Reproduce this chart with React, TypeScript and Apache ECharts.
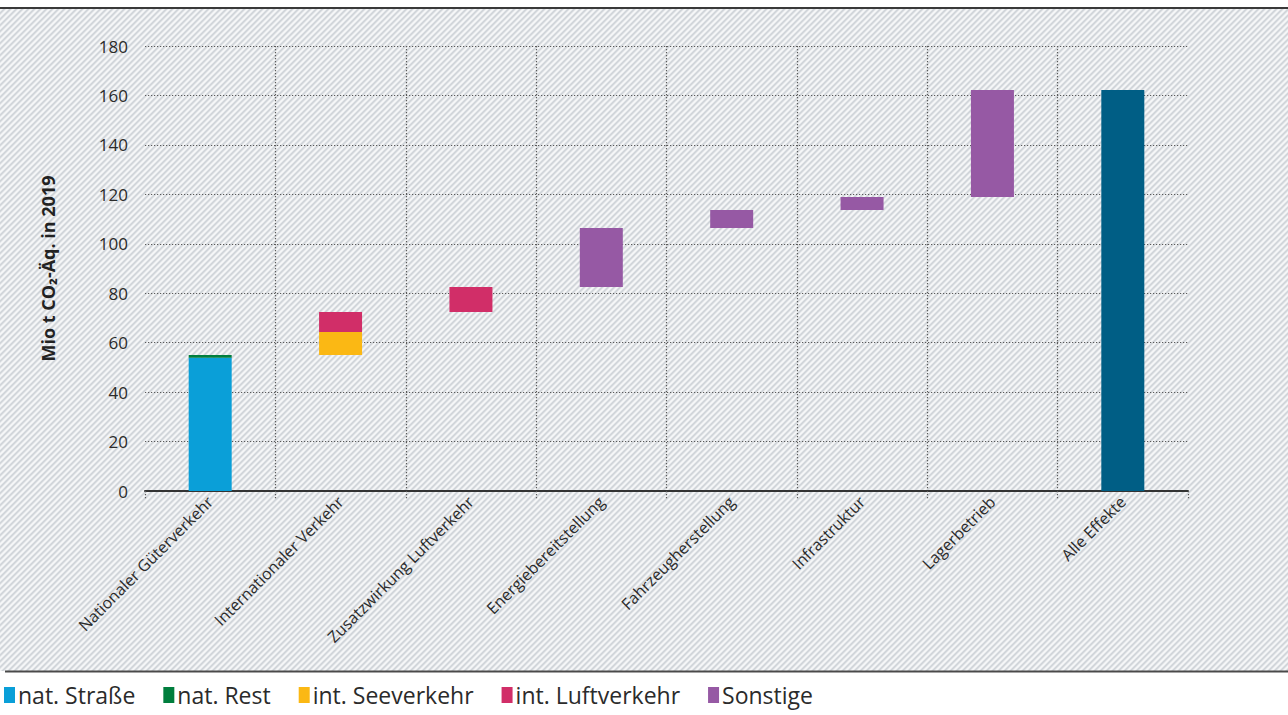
import React, { useEffect, useRef } from "react";
import * as echarts from "echarts";

const categories = [
  "Nationaler Güterverkehr",
  "Internationaler Verkehr",
  "Zusatzwirkung Luftverkehr",
  "Energiebereitstellung",
  "Fahrzeugherstellung",
  "Infrastruktur",
  "Lagerbetrieb",
  "Alle Effekte",
];

const natStrasse = [53.9, 0, 0, 0, 0, 0, 0, 0];
const natRest = [1.1, 0, 0, 0, 0, 0, 0, 0];
const intSee = [0, 9.3, 0, 0, 0, 0, 0, 0];
const intLuft = [0, 8.1, 10.1, 0, 0, 0, 0, 0];
const sonstige = [0, 0, 0, 23.9, 7.3, 5.2, 43.3, 0];
const alleEffekte = [0, 0, 0, 0, 0, 0, 0, 162.2];

const yTicks = { min: 0, max: 180, interval: 20 };

const legendNames = ["nat. Straße", "nat. Rest", "int. Seeverkehr", "int. Luftverkehr", "Sonstige"];
const colors = ["#0a9fd8", "#007e3d", "#fbb814", "#d12e68", "#9659a4"];
const totalColor = "#005e85";

const FONT = "'Open Sans', 'Noto Sans', sans-serif";

function makeHatch(): HTMLCanvasElement {
  const n = 6;
  const c = document.createElement("canvas");
  c.width = n;
  c.height = n;
  const ctx = c.getContext("2d")!;
  const shades = [
    [208, 212, 217],
    [212, 216, 220],
    [230, 232, 235],
    [245, 246, 247],
    [245, 246, 247],
    [228, 231, 234],
  ];
  const img = ctx.createImageData(n, n);
  for (let y = 0; y < n; y++) {
    for (let x = 0; x < n; x++) {
      const d = (x + y) % n;
      const s = shades[d];
      const i = (y * n + x) * 4;
      img.data[i] = s[0];
      img.data[i + 1] = s[1];
      img.data[i + 2] = s[2];
      img.data[i + 3] = 255;
    }
  }
  ctx.putImageData(img, 0, 0);
  return c;
}

const blank = (arr: number[]) => arr.map((v) => (v === 0 ? "-" : v));

export default function App() {
  const ref = useRef<HTMLDivElement>(null);

  useEffect(() => {
    if (!ref.current) return;
    const chart = echarts.init(ref.current, undefined, { renderer: "svg" });

    const comps = [natStrasse, natRest, intSee, intLuft, sonstige];
    const base: (number | string)[] = categories.map((_, i) => {
      if (alleEffekte[i] > 0) return "-";
      let s = 0;
      for (let j = 0; j < i; j++) for (const a of comps) s += a[j];
      return s === 0 ? "-" : Math.round(s * 10) / 10;
    });

    const hatch = makeHatch();
    const gridLine = { color: "#5a5a5a", width: 1.2, type: [1.2, 1.8] as any };

    const compSeries = comps.map((arr, k) => ({
      name: legendNames[k],
      type: "bar",
      stack: "w",
      barWidth: 43,
      itemStyle: { color: colors[k] },
      data: blank(arr),
    }));

    chart.setOption({
      animation: false,
      textStyle: { fontFamily: FONT },
      graphic: [
        {
          type: "rect",
          z: -10,
          silent: true,
          shape: { x: 0, y: 9, width: 1288, height: 662 },
          style: { fill: { image: hatch, repeat: "repeat" } as any },
        },
        {
          type: "line",
          z: -9,
          silent: true,
          shape: { x1: 0, y1: 8, x2: 1288, y2: 8 },
          style: { stroke: "#3a3a3a", lineWidth: 2 },
        },
        {
          type: "line",
          z: -9,
          silent: true,
          shape: { x1: 5, y1: 671.5, x2: 1288, y2: 671.5 },
          style: { stroke: "#4a4a4a", lineWidth: 2 },
        },
      ],
      grid: { left: 145, right: 100, top: 46, bottom: 224 },
      legend: {
        data: legendNames,
        left: 4,
        top: 683,
        padding: 0,
        icon: "rect",
        itemWidth: 11,
        itemHeight: 16,
        itemGap: 28,
        textStyle: {
          fontSize: 23,
          lineHeight: 24,
          color: "#2b2b2b",
          fontFamily: FONT,
          padding: [0, 0, 0, -2],
        },
      },
      xAxis: {
        type: "category",
        data: categories,
        axisLine: { show: true, lineStyle: { color: "#333", width: 2 } },
        axisTick: { show: true, length: 9, lineStyle: gridLine },
        splitLine: { show: true, showMinLine: false, showMaxLine: false, lineStyle: gridLine },
        axisLabel: {
          rotate: 45,
          fontSize: 16,
          color: "#2b2b2b",
          margin: 8,
          interval: 0,
          fontFamily: FONT,
        },
      },
      yAxis: {
        type: "value",
        min: yTicks.min,
        max: yTicks.max,
        interval: yTicks.interval,
        name: "Mio t CO₂-Äq. in 2019",
        nameLocation: "middle",
        nameGap: 88,
        nameTextStyle: { fontSize: 18, fontWeight: "bold", color: "#222", fontFamily: FONT },
        axisLine: { show: false },
        axisTick: { show: false },
        axisLabel: { fontSize: 17, color: "#2b2b2b", margin: 17, fontFamily: FONT },
        splitLine: { show: true, lineStyle: gridLine },
      },
      series: [
        {
          name: "base",
          type: "bar",
          stack: "w",
          barWidth: 43,
          silent: true,
          itemStyle: { color: "transparent" },
          data: base,
        },
        ...compSeries,
        {
          name: "Alle Effekte",
          type: "bar",
          stack: "w",
          barWidth: 43,
          itemStyle: { color: totalColor },
          data: blank(alleEffekte),
        },
      ],
    });

    return () => chart.dispose();
  }, []);

  return (
    <div style={{ position: "fixed", left: 0, top: 0, width: 1288, height: 715, background: "#fff" }}>
      <div ref={ref} style={{ width: 1288, height: 715 }} />
    </div>
  );
}
